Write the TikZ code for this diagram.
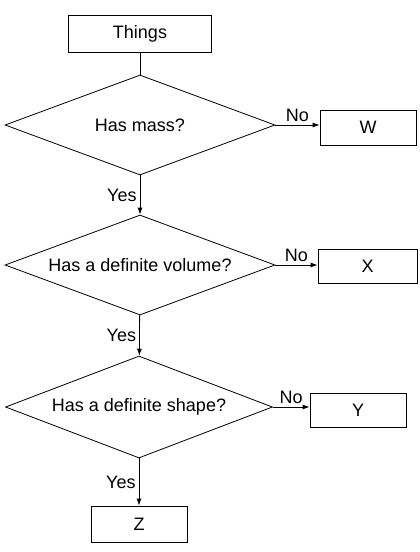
\documentclass[tikz,border=0pt]{standalone}
\usepackage{fontspec}
\setmainfont{Liberation Sans}
\usetikzlibrary{shapes.geometric,arrows.meta}

\tikzset{
  box/.style={draw, rectangle, minimum width=96pt, minimum height=35pt, inner sep=0pt},
  test/.style={draw, diamond, aspect=2.7, minimum width=270pt, minimum height=100pt, inner sep=0pt},
  answer/.style={inner sep=3pt},
}

\begin{document}
\begin{tikzpicture}[x=1pt, y=-1pt, line width=0.8pt, >={Latex[length=7pt,width=5pt]}, font=\fontsize{18}{21}\selectfont]
            \useasboundingbox (0,0) rectangle (420,552);

            \node[box, minimum width=143pt, minimum height=37pt] (things) at (140,33.5) {Things};
            \node[test] (mass) at (140,125) {Has mass?};
            \node[box] (w) at (368,127.5) {W};
            \node[test] (volume) at (140,265) {Has a definite volume?};
            \node[box, minimum width=99pt, minimum height=34pt] (x) at (367.5,266) {X};
            \node[test, minimum width=267pt, minimum height=102pt] (shape) at (139,407) {Has a definite shape?};
            \node[box, minimum height=34pt] (y) at (358,410) {Y};
            \node[box, minimum height=36pt] (z) at (139,524) {Z};

            \draw (things) to (mass);
            \draw[->] (mass.east) to node[answer, above] {No} (mass.east -| w.west);
            \draw[->] (mass) to node[answer, left] {Yes} (volume);
            \draw[->] (volume.east) to node[answer, above] {No} (volume.east -| x.west);
            \draw[->] (volume) to node[answer, left] {Yes} (shape);
            \draw[->] (shape.east) to node[answer, above] {No} (shape.east -| y.west);
            \draw[->] (shape) to node[answer, left] {Yes} (z);
        \end{tikzpicture}
\end{document}
